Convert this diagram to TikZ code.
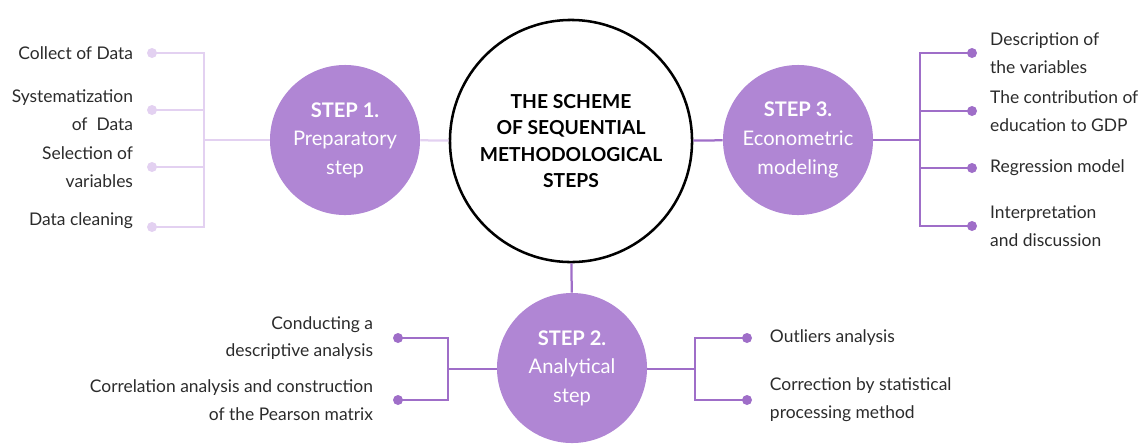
\documentclass[tikz,border=0pt]{standalone}
\usepackage{fontspec}
\setmainfont{Lato}
\usepackage{xcolor}
\usepackage{tikz}
\definecolor{stepfill}{HTML}{B086D4}
\definecolor{lightbar}{HTML}{E3D1F1}
\definecolor{darkbar}{HTML}{9F6EC8}
\definecolor{labeltext}{HTML}{2B2B2B}

\begin{document}
\begin{tikzpicture}[x=0.025cm,y=-0.025cm,
		stepnode/.style={circle,fill=stepfill,minimum size=3.75cm,inner sep=0pt,align=center,text=white,font=\fontsize{14.3}{20.3}\selectfont},
		centernode/.style={circle,draw=black,line width=1.8pt,fill=white,minimum size=6.05cm,inner sep=0pt,align=center,font=\bfseries\fontsize{13.7}{18.7}\selectfont},
		lightwire/.style={draw=lightbar,line width=1.6pt},
		darkwire/.style={draw=darkbar,line width=1.6pt},
		itemtext/.style={text=labeltext,font=\fontsize{12.4}{19.8}\selectfont}]
				\useasboundingbox (0,0) rectangle (1143,443);
				
				\node[centernode] (c0) at (571,141) {THE SCHEME\\OF SEQUENTIAL\\METHODOLOGICAL\\STEPS};%centre
				\node[stepnode] (s1) at (345,140) {\textbf{STEP 1.}\\Preparatory\\step};%step 1
				\node[stepnode] (s2) at (572,368) {\textbf{STEP 2.}\\Analytical\\step};%step 2
				\node[stepnode] (s3) at (798,140) {\textbf{STEP 3.}\\Econometric\\modeling};%step 3
				
				\coordinate (j1) at (204,140);%bar step 1
				\coordinate (d11) at (152,53);
				\coordinate (d12) at (152,110);
				\coordinate (d13) at (152,167);
				\coordinate (d14) at (152,227);
				\coordinate (j3) at (920,140);%bar step 3
				\coordinate (d31) at (972,53);
				\coordinate (d32) at (972,111);
				\coordinate (d33) at (972,168);
				\coordinate (d34) at (972,226);
				\coordinate (j2l) at (448,369);%bars step 2
				\coordinate (d21) at (398,338);
				\coordinate (d22) at (398,400);
				\coordinate (j2r) at (695,369);
				\coordinate (d23) at (747,338);
				\coordinate (d24) at (747,400);
				
				\draw[lightwire] (s1) -- (c0);
				\draw[darkwire] (c0) -- (s3);
				\draw[darkwire] (c0) -- (s2);
				
				\draw[lightwire] (s1.west) -- (j1);
				\draw[lightwire] (d11) -| (j1);
				\draw[lightwire] (d12) -| (j1);
				\draw[lightwire] (d13) -| (j1);
				\draw[lightwire] (d14) -| (j1);
				
				\draw[darkwire] (s3.east) -- (j3);
				\draw[darkwire] (d31) -| (j3);
				\draw[darkwire] (d32) -| (j3);
				\draw[darkwire] (d33) -| (j3);
				\draw[darkwire] (d34) -| (j3);
				
				\draw[darkwire] (s2.west |- j2l) -- (j2l);
				\draw[darkwire] (d21) -| (j2l);
				\draw[darkwire] (d22) -| (j2l);
				\draw[darkwire] (s2.east |- j2r) -- (j2r);
				\draw[darkwire] (d23) -| (j2r);
				\draw[darkwire] (d24) -| (j2r);
				
				\fill[lightbar] (d11) circle (5) node[itemtext,left=0.35cm] (l11) {Collect of Data};
				\fill[lightbar] (d12) circle (5) node[itemtext,left=0.35cm,align=right] (l12) {Systematization\\of\ \ Data};
				\fill[lightbar] (d13) circle (5) node[itemtext,left=0.35cm,align=right] (l13) {Selection of\\variables};
				\fill[lightbar] (d14) circle (5) node[itemtext,left=0.35cm,yshift=0.17cm] (l14) {Data cleaning};
				
				\fill[darkbar] (d31) circle (5) node[itemtext,right=0.33cm,align=left] (l31) {Description of\\the variables};
				\fill[darkbar] (d32) circle (5) node[itemtext,right=0.33cm,align=left] (l32) {The contribution of\\education to GDP};
				\fill[darkbar] (d33) circle (5) node[itemtext,right=0.33cm] (l33) {Regression model};
				\fill[darkbar] (d34) circle (5) node[itemtext,right=0.33cm,align=left] (l34) {Interpretation\\and discussion};
				
				\fill[darkbar] (d21) circle (5) node[itemtext,left=0.5cm,align=right] (l21) {Conducting a\\descriptive analysis};
				\fill[darkbar] (d22) circle (5) node[itemtext,left=0.5cm,align=right] (l22) {Correlation analysis and construction\\of the Pearson matrix};
				\fill[darkbar] (d23) circle (5) node[itemtext,right=0.45cm] (l23) {Outliers analysis};
				\fill[darkbar] (d24) circle (5) node[itemtext,right=0.45cm,align=left] (l24) {Correction by statistical\\processing method};
			\end{tikzpicture}
\end{document}
